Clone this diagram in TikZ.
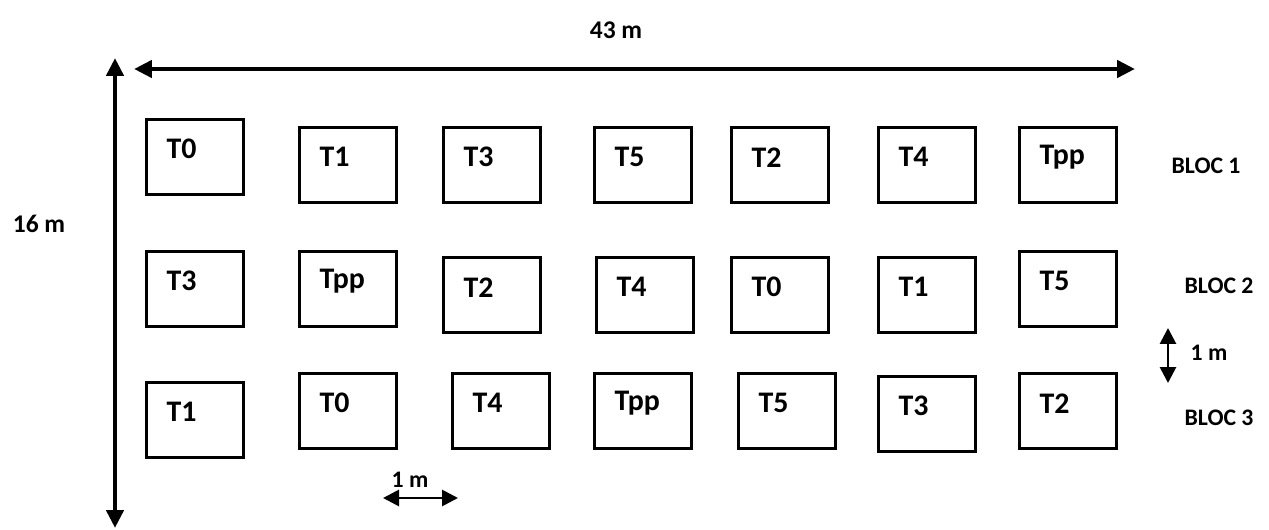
\documentclass[tikz,border=0pt]{standalone}
\usepackage{fontspec}
\setmainfont{Carlito}
\usepackage{tikz}
\usetikzlibrary{arrows.meta}
\tikzset{>={Triangle[length=0.36cm,width=0.34cm]}}

\begin{document}
\begin{tikzpicture}[x=0.02cm, y=-0.02cm,
    parcelle/.style={draw, line width=2pt, minimum width=1.94cm, minimum height=1.5cm, inner sep=0pt},
    trait/.style={anchor=west, inner sep=0pt, xshift=0.43cm, yshift=-0.63cm, font=\fontsize{17}{20}\selectfont\bfseries},
    cote/.style={line width=2.8pt},
    petitecote/.style={line width=1.6pt, {Triangle[length=0.32cm,width=0.32cm]}-{Triangle[length=0.32cm,width=0.32cm]}},
    txt/.style={inner sep=0pt, font=\fontsize{13.5}{16}\selectfont\bfseries}]
    \useasboundingbox (0,0) rectangle (1269,530);
    % dimensions du terrain
    \coordinate (hg) at (134,69);
    \coordinate (hd) at (1135,69);
    \coordinate (vh) at (115,58);
    \coordinate (vb) at (115,528);
    \draw[cote, <->] (hg) -- (hd);
    \draw[cote, <->] (vh) -- (vb);
    \node[txt, font=\fontsize{14.5}{17}\selectfont\bfseries] (long) at (616,30) {43 m};
    \node[txt, font=\fontsize{14.5}{17}\selectfont\bfseries] (larg) at (39,224) {16 m};
    % bloc 1
    \node[parcelle, label={[trait]north west:T0}] (a1) at (195,157) {};
    \node[parcelle, label={[trait]north west:T1}] (a2) at (348,165) {};
    \node[parcelle, label={[trait]north west:T3}] (a3) at (492,165) {};
    \node[parcelle, label={[trait]north west:T5}] (a4) at (643,165) {};
    \node[parcelle, label={[trait]north west:T2}] (a5) at (780,165) {};
    \node[parcelle, label={[trait]north west:T4}] (a6) at (927,165) {};
    \node[parcelle, label={[trait]north west:Tpp}] (a7) at (1068,165) {};
    % bloc 2
    \node[parcelle, label={[trait]north west:T3}] (b1) at (195,289) {};
    \node[parcelle, label={[trait]north west:Tpp}] (b2) at (348,289) {};
    \node[parcelle, label={[trait]north west:T2}] (b3) at (492,295) {};
    \node[parcelle, label={[trait]north west:T4}] (b4) at (645,295) {};
    \node[parcelle, label={[trait]north west:T0}] (b5) at (780,295) {};
    \node[parcelle, label={[trait]north west:T1}] (b6) at (927,295) {};
    \node[parcelle, label={[trait]north west:T5}] (b7) at (1068,289) {};
    % bloc 3
    \node[parcelle, label={[trait]north west:T1}] (c1) at (195,420) {};
    \node[parcelle, label={[trait]north west:T0}] (c2) at (348,411) {};
    \node[parcelle, label={[trait]north west:T4}] (c3) at (501,411) {};
    \node[parcelle, label={[trait]north west:Tpp}] (c4) at (643,411) {};
    \node[parcelle, label={[trait]north west:T5}] (c5) at (787,411) {};
    \node[parcelle, label={[trait]north west:T3}] (c6) at (927,414) {};
    \node[parcelle, label={[trait]north west:T2}] (c7) at (1068,411) {};
    % noms des blocs
    \node[txt] (bloc1) at (1206,166) {BLOC 1};
    \node[txt] (bloc2) at (1219,286) {BLOC 2};
    \node[txt] (bloc3) at (1219,418) {BLOC 3};
    % espacements de 1 m
    \coordinate (eh) at (1168,328);
    \coordinate (eb) at (1168,383);
    \draw[petitecote] (eh) -- (eb);
    \node[txt] (un1) at (1209,353) {1 m};
    \coordinate (eg) at (383,498);
    \coordinate (ed) at (458,498);
    \draw[petitecote] (eg) -- (ed);
    \node[txt] (un2) at (410,480) {1 m};
\end{tikzpicture}
\end{document}
